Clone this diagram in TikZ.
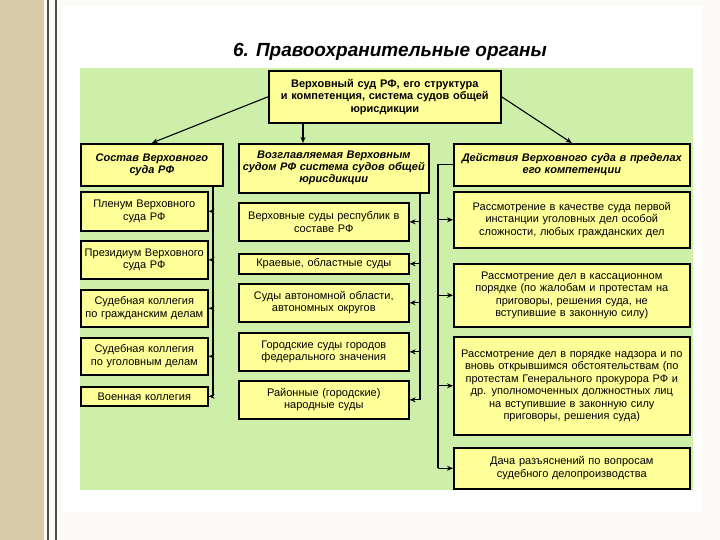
\documentclass[tikz,border=0pt]{standalone}
\usepackage{fontspec}
\setmainfont{Liberation Sans}
\usetikzlibrary{arrows.meta}
\definecolor{panel}{HTML}{CDEFAA}
\definecolor{boxfill}{HTML}{FFFF99}
\definecolor{parch}{HTML}{D8CBA8}
\tikzset{
  box/.style={draw=black, line width=1.6pt, fill=boxfill, anchor=north west, align=center, inner sep=1pt, font=\fontsize{11}{12.5}\selectfont},
  head/.style={box, font=\fontsize{11}{12}\selectfont\bfseries\itshape},
  conn/.style={line width=1.1pt, -{Stealth[length=6pt,width=5pt]}},
  trunk/.style={line width=1.1pt}
}
\begin{document}
\begin{tikzpicture}[x=1pt,y=-1pt]
\useasboundingbox (0,0) rectangle (720,540);
\fill[white!90!parch] (0,0) rectangle (720,540);
\fill[parch] (0,0) rectangle (44,540);
\draw[line width=1.5pt, black!70] (48,0) -- (48,540);
\draw[line width=1.5pt, black!70] (56,0) -- (56,540);
\fill[white] (62,6) rectangle (702,512);
\fill[panel] (80,68) rectangle (693,490);
\node[font=\fontsize{19}{22}\selectfont\bfseries\itshape] (title) at (390,52) {6. Правоохранительные органы};

\node[box, minimum width=232pt, minimum height=52pt, text width=228pt, font=\fontsize{11}{12.5}\selectfont\bfseries] (top) at (268,70) {Верховный суд РФ, его структура\\и компетенция, система судов общей\\юрисдикции};

\node[head, minimum width=142pt, minimum height=42pt, text width=138pt] (lh) at (80,143) {Состав Верховного\\суда РФ};
\node[head, minimum width=190pt, minimum height=49pt, text width=188pt] (mh) at (238,143) {Возглавляемая Верховным\\судом РФ система судов общей\\юрисдикции};
\node[head, minimum width=236pt, minimum height=42pt, text width=234pt] (rh) at (453,143) {Действия Верховного суда в пределах\\его компетенции};

\node[box, minimum width=127pt, minimum height=39pt, text width=125pt] (l1) at (80,191) {Пленум Верховного\\суда РФ};
\node[box, minimum width=127pt, minimum height=38pt, text width=125pt] (l2) at (80,240) {Президиум Верховного\\суда РФ};
\node[box, minimum width=127pt, minimum height=37pt, text width=125pt] (l3) at (80,289) {Судебная коллегия\\по гражданским делам};
\node[box, minimum width=127pt, minimum height=37pt, text width=125pt] (l4) at (80,337) {Судебная коллегия\\по уголовным делам};
\node[box, minimum width=127pt, minimum height=19pt, text width=125pt] (l5) at (80,386) {Военная коллегия};

\node[box, minimum width=170pt, minimum height=38pt, text width=166pt] (m1) at (238,202) {Верховные суды республик в\\составе РФ};
\node[box, minimum width=170pt, minimum height=20pt, text width=166pt] (m2) at (238,253) {Краевые, областные суды};
\node[box, minimum width=170pt, minimum height=38pt, text width=166pt] (m3) at (238,283) {Суды автономной области,\\автономных округов};
\node[box, minimum width=170pt, minimum height=38pt, text width=166pt] (m4) at (238,332) {Городские суды городов\\федерального значения};
\node[box, minimum width=170pt, minimum height=38pt, text width=166pt] (m5) at (238,380) {Районные (городские)\\народные суды};

\node[box, minimum width=236pt, minimum height=56pt, text width=234pt] (r1) at (453,191) {Рассмотрение в качестве суда первой\\инстанции уголовных дел особой\\сложности, любых гражданских дел};
\node[box, minimum width=236pt, minimum height=63pt, text width=234pt] (r2) at (453,263) {Рассмотрение дел в кассационном\\порядке (по жалобам и протестам на\\приговоры, решения суда, не\\вступившие в законную силу)};
\node[box, minimum width=236pt, minimum height=98pt, text width=234pt] (r3) at (453,336) {Рассмотрение дел в порядке надзора и по\\вновь открывшимся обстоятельствам (по\\протестам Генерального прокурора РФ и\\др. уполномоченных должностных лиц\\на вступившие в законную силу\\приговоры, решения суда)};
\node[box, minimum width=236pt, minimum height=41pt, text width=234pt] (r4) at (453,447) {Дача разъяснений по вопросам\\судебного делопроизводства};

% top arrows
\draw[conn] (top.west) -- (lh.north);
\draw[conn] (top.south west) ++(35,0) coordinate (ts) -- (mh.north -| ts);
\draw[conn] (top.east) -- (rh.north);

% left trunk
\coordinate (lt) at (lh.south -| 213,0);
\draw[trunk] (lt) -- (l5.east -| 213,0);
\foreach \n in {l1,l2,l3,l4,l5} \draw[conn] (\n.east -| 213,0) -- (\n.east);
% middle trunk
\coordinate (mt) at (mh.south -| 420,0);
\draw[trunk] (mt) -- (m5.east -| 420,0);
\foreach \n in {m1,m2,m3,m4,m5} \draw[conn] (\n.east -| 420,0) -- (\n.east);
% right trunk
\coordinate (rt) at (rh.west -| 438,0);
\draw[trunk] (rh.west) -- (rt) -- (r4.west -| 438,0);
\foreach \n in {r1,r2,r3,r4} \draw[conn] (\n.west -| 438,0) -- (\n.west);
\end{tikzpicture}
\end{document}
